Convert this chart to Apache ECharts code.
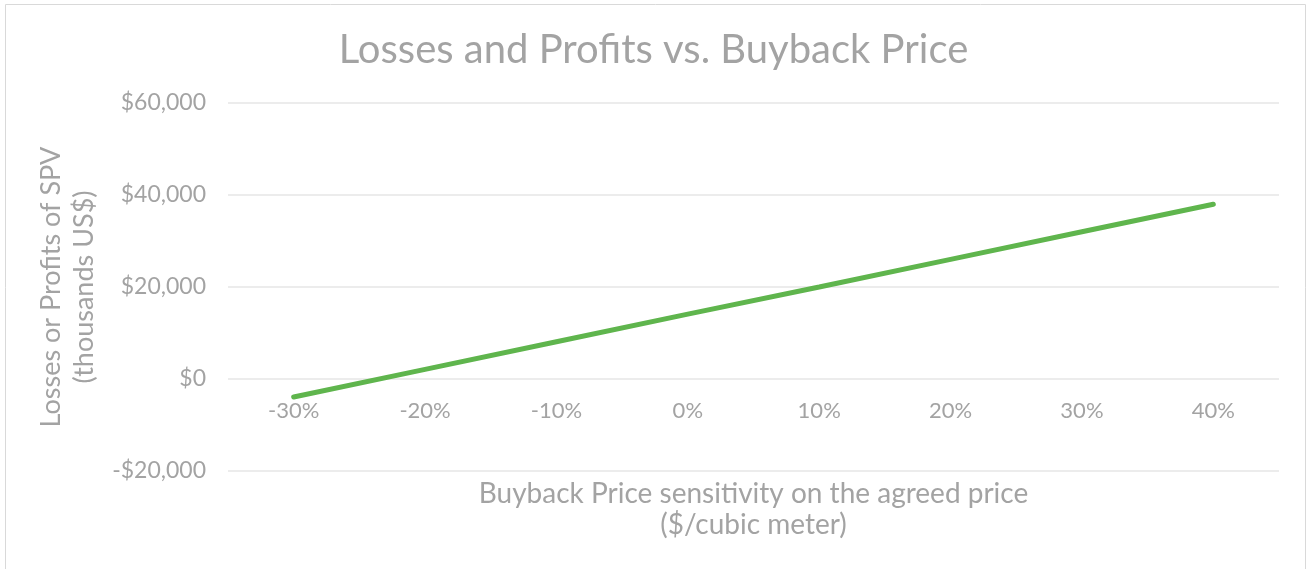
<!DOCTYPE html>
<html>
<head>
<meta charset="utf-8">
<script src="https://cdn.jsdelivr.net/npm/echarts@6/dist/echarts.min.js"></script>
<style>
  html, body { margin: 0; padding: 0; background: #fff; }
  #chart { width: 1307px; height: 569px; }
</style>
</head>
<body>
<div id="chart"></div>
<script>
// sensitivity of buyback price (categories) and SPV result, thousands US$
const sensitivity = ['-30%', '-20%', '-10%', '0%', '10%', '20%', '30%', '40%'];
const profitLoss = [-3900, 2100, 8100, 14100, 20000, 26000, 32000, 38000];
const yTicks = [-20000, 0, 20000, 40000, 60000];

const chart = echarts.init(document.getElementById('chart'));
const textColor = '#a3a3a3';
const fontFamily = 'Lato, "Noto Sans", sans-serif';

const fmtMoney = v => (v < 0 ? '-$' : '$') + Math.abs(v).toLocaleString('en-US');

chart.setOption({
  animation: false,
  graphic: [{
    type: 'rect',
    shape: { x: 5.5, y: 4.5, width: 1300, height: 570 },
    style: { fill: 'none', stroke: '#d9d9d9', lineWidth: 1 }
  }],
  title: {
    text: 'Losses and Profits vs. Buyback Price',
    left: 'center',
    top: 25,
    textStyle: { color: textColor, fontFamily, fontSize: 40, fontWeight: 'normal' }
  },
  grid: { left: 228, right: 28, top: 103, bottom: 98, outerBoundsMode: 'none' },
  xAxis: {
    type: 'category',
    data: sensitivity,
    offset: -92, // labels sit under the $0 line
    axisLine: { show: false },
    axisTick: { show: false },
    axisLabel: { color: textColor, fontFamily, fontSize: 22, margin: 21 },
    name: 'Buyback Price sensitivity on the agreed price\n($/cubic meter)',
    nameLocation: 'middle',
    nameGap: 99,
    nameTextStyle: { color: textColor, fontFamily, fontSize: 28, lineHeight: 31 }
  },
  yAxis: {
    type: 'value',
    min: yTicks[0],
    max: yTicks[yTicks.length - 1],
    interval: 20000,
    axisLine: { show: false },
    axisTick: { show: false },
    splitLine: { lineStyle: { color: '#e6e6e6', width: 1.5 } },
    axisLabel: { color: textColor, fontFamily, fontSize: 23, margin: 22, formatter: fmtMoney },
    name: 'Losses or Profits of SPV\n(thousands US$)',
    nameLocation: 'middle',
    nameRotate: 90,
    nameGap: 114,
    nameTextStyle: { color: textColor, fontFamily, fontSize: 27, lineHeight: 33 }
  },
  series: [{
    type: 'line',
    data: profitLoss,
    symbol: 'none',
    lineStyle: { color: '#5fb54d', width: 5, cap: 'round' }
  }]
});
</script>
</body>
</html>
